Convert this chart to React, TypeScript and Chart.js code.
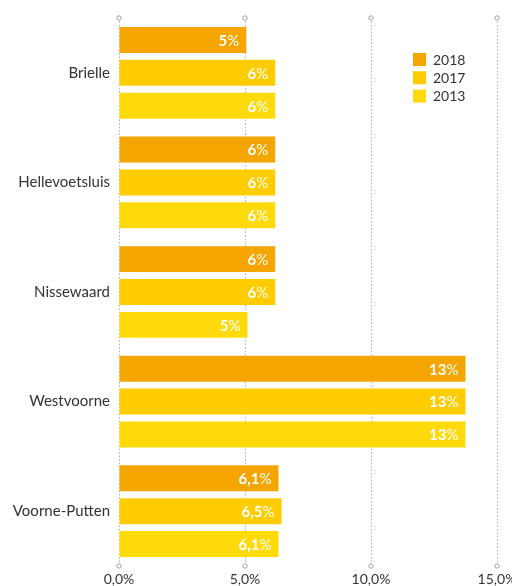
import React, { useEffect, useRef } from 'react';
import { Chart, registerables } from 'chart.js';

Chart.register(...registerables);

const categories = ['Brielle', 'Hellevoetsluis', 'Nissewaard', 'Westvoorne', 'Voorne-Putten'];
const seriesNames = ['2018', '2017', '2013'];
const values2018 = [5.05, 6.2, 6.2, 13.75, 6.33];
const values2017 = [6.2, 6.2, 6.2, 13.75, 6.45];
const values2013 = [6.2, 6.2, 5.1, 13.75, 6.33];
const labels2018 = ['5', '6', '6', '13', '6,1'];
const labels2017 = ['6', '6', '6', '13', '6,5'];
const labels2013 = ['6', '6', '5', '13', '6,1'];
const xTicks = [0, 5, 10, 15];
const seriesColors = ['#F5A500', '#FFCC00', '#FFDA0B'];

const FONT = 'Lato';
const labelSets = [labels2018, labels2017, labels2013];

const gridCircles = {
  id: 'gridCircles',
  afterDraw(chart: any) {
    const ctx = chart.ctx;
    const xs = chart.scales.x;
    const { top, bottom } = chart.chartArea;
    ctx.save();
    ctx.strokeStyle = '#a0a0a0';
    ctx.fillStyle = '#ffffff';
    ctx.lineWidth = 1;
    xs.ticks.forEach((t: any) => {
      const x = xs.getPixelForValue(t.value);
      [top, bottom].forEach((y) => {
        ctx.beginPath();
        ctx.arc(x, y, 2.2, 0, Math.PI * 2);
        ctx.fill();
        ctx.stroke();
      });
    });
    ctx.restore();
  },
};

const barLabels = {
  id: 'barLabels',
  afterDatasetsDraw(chart: any) {
    const ctx = chart.ctx;
    ctx.save();
    ctx.fillStyle = '#ffffff';
    ctx.textBaseline = 'middle';
    chart.data.datasets.forEach((ds: any, di: number) => {
      const meta = chart.getDatasetMeta(di);
      meta.data.forEach((el: any, i: number) => {
        const txt = labelSets[di][i];
        const right = el.x - 7;
        ctx.font = `15px ${FONT}`;
        const pw = ctx.measureText('%').width;
        ctx.textAlign = 'right';
        ctx.fillText('%', right, el.y + 1);
        ctx.font = `bold 15px ${FONT}`;
        ctx.fillText(txt, right - pw, el.y + 1);
      });
    });
    ctx.restore();
  },
};

const customLegend = {
  id: 'customLegend',
  afterDraw(chart: any) {
    const ctx = chart.ctx;
    ctx.save();
    chart.data.datasets.forEach((ds: any, i: number) => {
      const y = 53 + i * 18.3;
      ctx.fillStyle = ds.backgroundColor;
      ctx.fillRect(413, y, 13, 13);
      ctx.fillStyle = '#333333';
      ctx.font = `14px ${FONT}`;
      ctx.textAlign = 'left';
      ctx.textBaseline = 'middle';
      ctx.fillText(ds.label, 433, y + 7);
    });
    ctx.restore();
  },
};

export default function App() {
  const ref = useRef<HTMLCanvasElement>(null);
  useEffect(() => {
    document.body.style.margin = '0';
    const chart = new Chart(ref.current as HTMLCanvasElement, {
      type: 'bar',
      data: {
        labels: categories,
        datasets: [values2018, values2017, values2013].map((vals, i) => ({
          label: seriesNames[i],
          data: vals,
          backgroundColor: seriesColors[i],
          borderWidth: 0,
          categoryPercentage: 0.9,
          barPercentage: 0.79,
        })),
      },
      options: {
        indexAxis: 'y',
        responsive: false,
        animation: false,
        layout: { padding: { top: 15, right: 15, left: 0, bottom: 0 } },
        plugins: {
          legend: { display: false },
          tooltip: { enabled: false },
        },
        scales: {
          x: {
            min: 0,
            max: 15,
            afterBuildTicks: (scale: any) => {
              scale.ticks = xTicks.map((v) => ({ value: v }));
            },
            afterFit: (scale: any) => {
              scale.height = 20;
              scale.paddingLeft = 0;
              scale.paddingRight = 0;
            },
            grid: { color: '#b0b0b0', lineWidth: 1, drawTicks: false },
            border: { display: false, dash: [1.5, 2] },
            ticks: {
              padding: 5,
              color: '#333333',
              font: { family: FONT, size: 14 },
              callback: (v: any) => Number(v).toFixed(1).replace('.', ',') + '%',
            },
          },
          y: {
            grid: { display: false, drawTicks: false, tickLength: 0 },
            border: { display: false },
            afterFit: (scale: any) => {
              scale.width = 119;
            },
            ticks: {
              padding: 9,
              color: '#333333',
              font: { family: FONT, size: 15 },
            },
          },
        },
      },
      plugins: [gridCircles, barLabels, customLegend],
    });
    return () => chart.destroy();
  }, []);
  return (
    <div style={{ width: 512, height: 586 }}>
      <canvas ref={ref} width={512} height={586} />
    </div>
  );
}
